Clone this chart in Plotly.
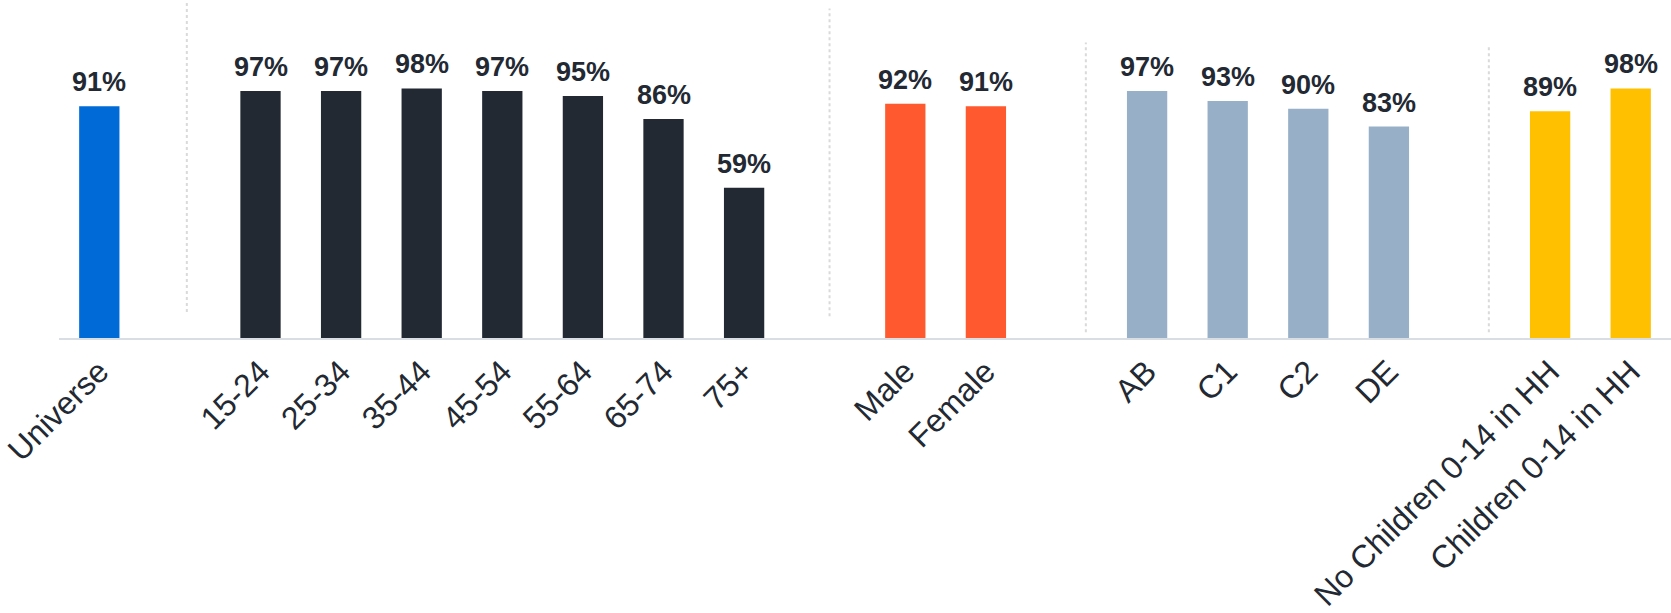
import plotly.graph_objects as go

# Reach by audience segment (%)
universe_labels = ["Universe"]
universe_values = [91]

age_labels = ["15-24", "25-34", "35-44", "45-54", "55-64", "65-74", "75+"]
age_values = [97, 97, 98, 97, 95, 86, 59]

gender_labels = ["Male", "Female"]
gender_values = [92, 91]

social_labels = ["AB", "C1", "C2", "DE"]
social_values = [97, 93, 90, 83]

children_labels = ["No Children 0-14 in HH", "Children 0-14 in HH"]
children_values = [89, 98]

groups = [
    (universe_labels, universe_values, "#006AD7"),
    (age_labels, age_values, "#222933"),
    (gender_labels, gender_values, "#FF5A2F"),
    (social_labels, social_values, "#97AFC7"),
    (children_labels, children_values, "#FFC000"),
]

TEXT = "#222933"
FONT = "Liberation Sans, Arial, Helvetica, sans-serif"
Y_MAX = 132.7

fig = go.Figure()
tickvals, ticktext = [], []
annotations = []
pos = 0
for labels, values, color in groups:
    xs = list(range(pos, pos + len(labels)))
    fig.add_trace(go.Bar(
        x=xs, y=values, width=0.5,
        marker=dict(color=color, line=dict(width=0)),
        showlegend=False, hoverinfo="skip",
    ))
    for x, v in zip(xs, values):
        annotations.append(dict(
            x=x, y=v, xref="x", yref="y", text=f"<b>{v}%</b>",
            showarrow=False, yanchor="bottom", yshift=7,
            font=dict(family=FONT, size=27, color=TEXT),
        ))
    tickvals += xs
    ticktext += labels
    pos += len(labels) + 1  # one empty slot between segments

# dotted separators between segments: (x, bottom, top)
separators = [
    (1.086, 10.2, Y_MAX),
    (9.06, 8.5, 129.4),
    (12.24, 2.3, 116.0),
    (17.24, 2.3, 115.0),
]
shapes = []
for sx, y0, y1 in separators:
    shapes.append(dict(
        type="line", xref="x", yref="y", x0=sx, x1=sx, y0=y0, y1=y1,
        line=dict(color="#DADADA", width=2, dash="dot"), layer="below",
    ))

fig.update_layout(
    width=1671, height=613,
    margin=dict(l=59, r=0, t=0, b=275, autoexpand=False),
    paper_bgcolor="white", plot_bgcolor="white",
    bargap=0.5,
    shapes=shapes,
    annotations=annotations,
    font=dict(family=FONT, color=TEXT),
)
fig.update_xaxes(
    range=[-0.5, 19.5], tickmode="array", tickvals=tickvals, ticktext=ticktext,
    tickangle=-45, tickfont=dict(family=FONT, size=32, color=TEXT),
    ticklabeloverflow="allow",
    showgrid=False, zeroline=False, showline=True, linecolor="#D9DEE5",
    linewidth=2, ticks="", automargin=False,
)
fig.update_yaxes(
    range=[0, Y_MAX], visible=False, showgrid=False, zeroline=False,
)

fig.write_html("out.html")
